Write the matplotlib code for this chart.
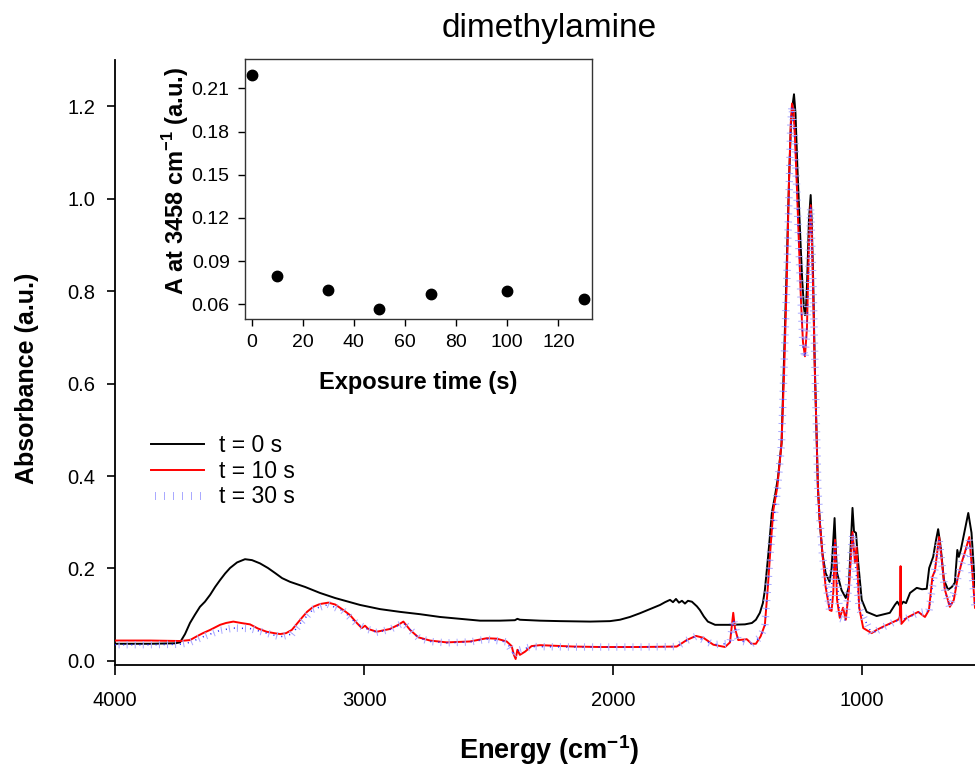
import matplotlib
matplotlib.use("Agg")
import matplotlib.pyplot as plt
from matplotlib import patheffects as pe

plt.rcParams['font.family'] = ['Liberation Sans', 'DejaVu Sans']
plt.rcParams['mathtext.fontset'] = 'custom'
plt.rcParams['mathtext.rm'] = 'Liberation Sans'
plt.rcParams['mathtext.bf'] = 'Liberation Sans:bold'

# ---- FTIR spectra (wavenumber in cm-1, absorbance in a.u.) ----
wn_t0 = [4000, 3859, 3759, 3739, 3719, 3699, 3679, 3659, 3639, 3618, 3598, 3578,
         3558, 3538, 3510, 3478, 3450, 3418, 3386, 3357, 3329, 3297, 3237, 3177,
         3116, 3056, 3016, 2936, 2855, 2775, 2695, 2614, 2534, 2454, 2394, 2384,
         2374, 2293, 2213, 2092, 2012, 1972, 1932, 1892, 1851, 1811, 1791, 1771,
         1759, 1747, 1735, 1723, 1711, 1699, 1683, 1663, 1651, 1635, 1619, 1590,
         1530, 1470, 1442, 1426, 1410, 1398, 1390, 1378, 1370, 1362, 1350, 1337,
         1323, 1313, 1305, 1293, 1285, 1277, 1273, 1267, 1260, 1249, 1240, 1233,
         1229, 1225, 1220, 1213, 1206, 1202, 1196, 1190, 1183, 1177, 1170, 1159,
         1146, 1130, 1122, 1110, 1105, 1100, 1082, 1065, 1053, 1045, 1038, 1032,
         1024, 1015, 1001, 981, 941, 888, 868, 858, 847, 834, 823, 807, 780, 759,
         740, 730, 714, 703, 694, 684, 671, 654, 639, 627, 617, 611, 603, 591, 573,
         560, 546]
abs_t0 = [0.037, 0.037, 0.038, 0.040, 0.058, 0.082, 0.100, 0.117, 0.128, 0.143, 0.160, 0.175,
          0.189, 0.201, 0.213, 0.220, 0.218, 0.211, 0.201, 0.190, 0.179, 0.171, 0.160, 0.147,
          0.136, 0.127, 0.121, 0.112, 0.106, 0.101, 0.095, 0.091, 0.087, 0.087, 0.088, 0.091,
          0.089, 0.087, 0.086, 0.085, 0.086, 0.089, 0.095, 0.103, 0.112, 0.121, 0.127, 0.132,
          0.127, 0.134, 0.126, 0.130, 0.124, 0.130, 0.128, 0.118, 0.110, 0.096, 0.085, 0.078,
          0.078, 0.079, 0.082, 0.089, 0.104, 0.125, 0.153, 0.220, 0.268, 0.320, 0.355, 0.398,
          0.471, 0.651, 0.800, 1.040, 1.163, 1.210, 1.226, 1.185, 1.077, 0.932, 0.824, 0.765,
          0.748, 0.760, 0.824, 0.954, 1.008, 0.954, 0.824, 0.651, 0.506, 0.376, 0.305, 0.233,
          0.190, 0.171, 0.200, 0.309, 0.240, 0.190, 0.153, 0.136, 0.160, 0.250, 0.331, 0.280,
          0.277, 0.212, 0.132, 0.106, 0.097, 0.104, 0.121, 0.128, 0.118, 0.128, 0.125, 0.147,
          0.158, 0.155, 0.156, 0.201, 0.225, 0.260, 0.285, 0.247, 0.175, 0.154, 0.160, 0.169,
          0.240, 0.225, 0.240, 0.272, 0.320, 0.277, 0.160]

wn_t10 = [4000, 3859, 3739, 3699, 3672, 3647, 3618, 3578, 3554, 3525, 3494, 3458,
          3426, 3391, 3361, 3337, 3313, 3290, 3273, 3250, 3229, 3204, 3177, 3143,
          3116, 3083, 3056, 3029, 3009, 2996, 2983, 2949, 2896, 2862, 2842, 2815,
          2782, 2735, 2668, 2574, 2507, 2467, 2427, 2407, 2398, 2391, 2384, 2374,
          2353, 2327, 2293, 2159, 2052, 1892, 1744, 1704, 1667, 1637, 1597, 1550,
          1530, 1517, 1510, 1497, 1477, 1463, 1443, 1426, 1407, 1390, 1378, 1367,
          1356, 1340, 1323, 1313, 1302, 1293, 1286, 1281, 1275, 1269, 1261, 1253,
          1245, 1237, 1229, 1221, 1213, 1206, 1202, 1196, 1190, 1183, 1177, 1170,
          1159, 1146, 1130, 1122, 1115, 1108, 1100, 1089, 1076, 1065, 1053, 1038,
          1028, 1022, 1011, 995, 961, 941, 915, 875, 855, 848, 845, 842, 821, 774,
          747, 731, 717, 707, 690, 681, 667, 647, 631, 617, 600, 586, 569, 558, 546]
abs_t10 = [0.044, 0.044, 0.043, 0.045, 0.053, 0.060, 0.067, 0.078, 0.082, 0.085, 0.082, 0.079,
           0.070, 0.063, 0.060, 0.058, 0.060, 0.067, 0.078, 0.093, 0.106, 0.117, 0.123, 0.126,
           0.122, 0.110, 0.099, 0.082, 0.071, 0.076, 0.069, 0.063, 0.069, 0.078, 0.085, 0.067,
           0.051, 0.044, 0.040, 0.042, 0.049, 0.048, 0.042, 0.032, 0.013, 0.004, 0.024, 0.013,
           0.020, 0.032, 0.034, 0.031, 0.030, 0.030, 0.031, 0.045, 0.054, 0.050, 0.035, 0.030,
           0.040, 0.104, 0.070, 0.045, 0.046, 0.047, 0.037, 0.037, 0.053, 0.078, 0.160, 0.247,
           0.326, 0.376, 0.471, 0.620, 0.824, 1.040, 1.163, 1.206, 1.190, 1.130, 1.020, 0.900,
           0.780, 0.690, 0.659, 0.720, 0.900, 0.986, 0.930, 0.800, 0.640, 0.506, 0.376, 0.305,
           0.233, 0.160, 0.110, 0.108, 0.150, 0.262, 0.132, 0.093, 0.115, 0.089, 0.150, 0.279,
           0.212, 0.247, 0.115, 0.071, 0.060, 0.067, 0.074, 0.084, 0.089, 0.095, 0.205, 0.080,
           0.093, 0.106, 0.095, 0.110, 0.182, 0.195, 0.268, 0.225, 0.154, 0.117, 0.132, 0.175,
           0.212, 0.236, 0.268, 0.200, 0.115]

wn_t30 = [4000, 3859, 3739, 3699, 3647, 3578, 3525, 3458, 3391, 3337, 3290, 3250,
          3204, 3143, 3083, 3029, 2983, 2949, 2896, 2842, 2782, 2735, 2668, 2574,
          2507, 2427, 2398, 2384, 2327, 2159, 1892, 1744, 1704, 1667, 1597, 1530,
          1517, 1497, 1443, 1407, 1390, 1367, 1340, 1323, 1302, 1286, 1281, 1269,
          1253, 1237, 1229, 1221, 1206, 1196, 1177, 1159, 1130, 1108, 1089, 1065,
          1037, 1011, 961, 915, 855, 821, 774, 731, 690, 667, 647, 600, 569, 546]
abs_t30 = [0.035, 0.035, 0.036, 0.040, 0.052, 0.066, 0.071, 0.070, 0.060, 0.052, 0.058, 0.085,
           0.112, 0.122, 0.108, 0.080, 0.068, 0.062, 0.068, 0.082, 0.050, 0.042, 0.039, 0.041,
           0.047, 0.041, 0.014, 0.022, 0.031, 0.030, 0.030, 0.031, 0.044, 0.053, 0.035, 0.038,
           0.090, 0.045, 0.037, 0.052, 0.076, 0.245, 0.370, 0.470, 0.820, 1.160, 1.200, 1.120,
           0.890, 0.680, 0.655, 0.720, 0.980, 0.800, 0.370, 0.230, 0.110, 0.255, 0.092, 0.088,
           0.275, 0.113, 0.059, 0.073, 0.088, 0.092, 0.104, 0.108, 0.262, 0.152, 0.116, 0.210,
           0.262, 0.113]

# ---- absorbance at 3458 cm-1 versus exposure time ----
exposure_s = [0, 10, 30, 50, 70, 100, 130]
abs_3458 = [0.219, 0.080, 0.070, 0.057, 0.067, 0.069, 0.064]

series_labels = ['t = 0 s', 't = 10 s', 't = 30 s']

fig = plt.figure(figsize=(9.75, 7.69), dpi=100)

ax = fig.add_axes([0.118, 0.1352, 0.882, 0.7867])
ax.plot(wn_t0, abs_t0, color='black', lw=1.4, label=series_labels[0], zorder=3)
ax.plot(wn_t10, abs_t10, color='#ff0000', lw=1.4, label=series_labels[1], zorder=4)

# t = 30 s: dotted trace with short perpendicular ticks
ticks = [pe.TickedStroke(spacing=5.8, angle=90, length=0.4, linewidth=0.7,
                         foreground='#a8a8ff'),
         pe.TickedStroke(spacing=5.8, angle=-90, length=0.4, linewidth=0.7,
                         foreground='#a8a8ff')]
ax.plot(wn_t30, abs_t30, color='#a8a8ff', lw=0.7, path_effects=ticks,
        label=series_labels[2], zorder=5)
ax.plot(wn_t30, abs_t30, color='#2020ff', lw=1.1, linestyle=(0, (0.7, 4.6)),
        zorder=6)

ax.set_xlim(4000, 546)
ax.set_ylim(-0.009, 1.3)
ax.set_xticks([4000, 3000, 2000, 1000])
ax.set_yticks([0.0, 0.2, 0.4, 0.6, 0.8, 1.0, 1.2])
ax.set_yticklabels([f'{v:.1f}' for v in [0.0, 0.2, 0.4, 0.6, 0.8, 1.0, 1.2]])
ax.tick_params(axis='x', direction='out', length=7, width=1.2, labelsize=14.5, pad=12)
ax.tick_params(axis='y', direction='out', length=6, width=1.2, labelsize=14.5, pad=8)
for side in ('top', 'right'):
    ax.spines[side].set_visible(False)
for side in ('left', 'bottom'):
    ax.spines[side].set_linewidth(1.3)

fig.text(549 / 975, 1 - 750 / 769, r'Energy (cm$^{\mathbf{-1}}$)', fontsize=19.5,
         fontweight='bold', ha='center', va='center')
fig.text(27 / 975, 1 - 378 / 769, 'Absorbance (a.u.)', fontsize=18,
         fontweight='bold', ha='center', va='center', rotation=90)

fig.text(549 / 975, 1 - 28 / 769, 'dimethylamine', fontsize=24, ha='center', va='center')

ax.legend(loc='upper left', bbox_to_anchor=(0.155, 1 - 434 / 769),
          bbox_transform=fig.transFigure, frameon=False, fontsize=16.5,
          handlelength=2.3, handletextpad=0.65, labelspacing=0.12,
          borderpad=0, borderaxespad=0)

# inset: decay of the N-H band with exposure time
ins = fig.add_axes([0.2513, 0.5852, 0.356, 0.338])
ins.plot(exposure_s, abs_3458, linestyle='none', marker='o', markersize=7.5,
         color='black')
ins.set_xlim(-2.6, 133.2)
ins.set_ylim(0.0498, 0.2304)
ins.set_xticks([0, 20, 40, 60, 80, 100, 120])
ins.set_yticks([0.06, 0.09, 0.12, 0.15, 0.18, 0.21])
ins.set_yticklabels(['0.06', '0.09', '0.12', '0.15', '0.18', '0.21'])
ins.tick_params(direction='out', length=5, width=1.0, labelsize=14, pad=6)
for sp in ins.spines.values():
    sp.set_linewidth(1.0)
    sp.set_color('#333333')
fig.text(418 / 975, 1 - 382 / 769, 'Exposure time (s)', fontsize=17,
         fontweight='bold', ha='center', va='center')
fig.text(176 / 975, 1 - 181 / 769, r'A at 3458 cm$^{\mathbf{-1}}$ (a.u.)', fontsize=17,
         fontweight='bold', ha='center', va='center', rotation=90)

fig.savefig('out.png', dpi=100)
